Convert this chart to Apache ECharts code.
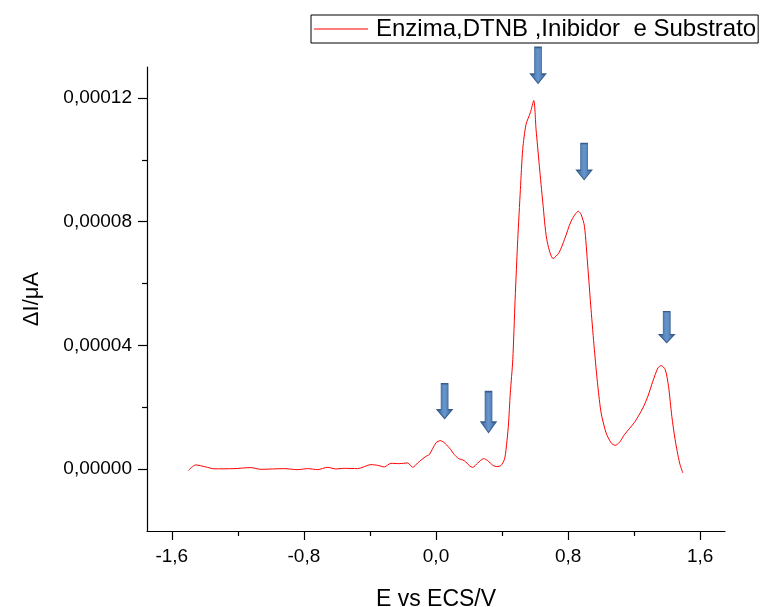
<!DOCTYPE html>
<html>
<head>
<meta charset="utf-8">
<script src="https://cdn.jsdelivr.net/npm/echarts@6/dist/echarts.min.js"></script>
<style>html,body{margin:0;padding:0;background:#fff;}#c{width:760px;height:607px;}</style>
</head>
<body>
<div id="c"></div>
<script>
// Potential (V vs ECS)
const potential = [-1.499,-1.455,-1.394,-1.344,-1.224,-1.121,-1.061,-0.921,-0.838,-0.778,-0.717,-0.656,-0.606,-0.556,-0.475,-0.394,-0.353,-0.313,-0.273,-0.222,-0.172,-0.141,-0.111,-0.061,-0.041,0.000,0.026,0.047,0.081,0.111,0.135,0.171,0.202,0.222,0.253,0.289,0.313,0.344,0.370,0.394,0.414,0.424,0.438,0.450,0.465,0.479,0.495,0.511,0.525,0.545,0.571,0.592,0.606,0.626,0.647,0.671,0.709,0.745,0.778,0.818,0.862,0.879,0.899,0.919,0.939,0.959,0.980,1.000,1.030,1.061,1.085,1.111,1.141,1.202,1.253,1.283,1.313,1.344,1.364,1.388,1.408,1.428,1.448,1.475,1.495];
// Delta current
const current = [-4e-7,1.36e-6,7.1e-7,1e-7,1.6e-7,4.9e-7,-6e-8,1.6e-7,-1.6e-7,1.6e-7,-1.6e-7,5.8e-7,6e-8,2.6e-7,1.6e-7,1.46e-6,1.23e-6,7.1e-7,1.88e-6,1.78e-6,2.0e-6,5.8e-7,2.0e-6,4.14e-6,4.69e-6,8.5e-6,9.22e-6,8.67e-6,6.86e-6,4.69e-6,3.49e-6,2.75e-6,1.13e-6,5.8e-7,2.0e-6,3.4e-6,2.75e-6,1.23e-6,8.1e-7,1.23e-6,3.07e-6,6.31e-6,1.384e-5,2.464e-5,3.541e-5,5.48e-5,7.421e-5,9.038e-5,1.0332e-4,1.114e-4,1.1518e-4,1.1916e-4,1.0978e-4,9.792e-5,8.608e-5,7.421e-5,6.807e-5,7.0e-5,7.421e-5,8.013e-5,8.336e-5,8.23e-5,7.85e-5,6.558e-5,5.158e-5,3.864e-5,2.678e-5,1.817e-5,1.171e-5,8.47e-6,7.7e-6,8.67e-6,1.116e-5,1.513e-5,1.979e-5,2.354e-5,2.839e-5,3.272e-5,3.347e-5,3.218e-5,2.678e-5,1.707e-5,9.54e-6,2.0e-6,-1.23e-6];
const xTicks = [-1.6,-0.8,0,0.8,1.6];
const xMinor = [-1.2,-0.4,0.4,1.2];
const yTicks = [0,0.00004,0.00008,0.00012];
const yMinor = [0.00002,0.00006,0.00010];
const seriesName = 'Enzima,DTNB ,Inibidor  e Substrato';
// arrow annotations (tip position in data coords)
const arrowX = [0.052,0.318,0.618,0.897,1.397];
const arrowY = [1.63e-5,1.18e-5,1.247e-4,9.36e-5,4.09e-5];

const FONT = 'Liberation Sans, Arial, sans-serif';
const arrowLen = [35,41,36,36,31];
const arrowPath = 'path://M4,0 L11,0 L11,26 L15,26 L7.5,35 L0,26 L4,26 Z';
const arrowFill = new echarts.graphic.LinearGradient(0,0,1,0,[
  {offset:0,color:'#3a679e'},{offset:0.5,color:'#6796cf'},{offset:1,color:'#3a679e'}]);

const chart = echarts.init(document.getElementById('c'), null, {renderer:'canvas'});
const fmt = v => Number(v).toFixed(5).replace('.', ',');
const xfmt = v => Number(v).toFixed(1).replace('.', ',');
const baseX = {type:'value', min:-1.75, max:1.75, splitLine:{show:false}};
const baseY = {type:'value', min:-0.00002, max:0.00013, splitLine:{show:false}};
chart.setOption({
  animation:false,
  backgroundColor:'#fff',
  textStyle:{fontFamily:FONT},
  grid:{left:147, right:35, top:67, bottom:76, containLabel:false, outerBoundsMode:'none'},
  legend:{
    left:311, top:15, padding:[2,2,2,3],
    borderColor:'#000', borderWidth:1,
    icon:'rect', itemWidth:54, itemHeight:1.2, itemGap:0,
    textStyle:{fontFamily:FONT, fontSize:24, color:'#000', padding:[0,0,0,3]},
    data:[{name:seriesName, itemStyle:{color:'#ff0000'}}]
  },
  xAxis:[
    Object.assign({}, baseX, {
      position:'bottom',
      name:'E vs ECS/V', nameLocation:'middle', nameGap:57,
      nameTextStyle:{fontFamily:FONT, fontSize:23, color:'#000'},
      axisLine:{onZero:false, lineStyle:{color:'#000', width:1.2}},
      axisTick:{show:true, inside:false, length:9, customValues:xTicks, lineStyle:{color:'#000', width:1.2}},
      axisLabel:{customValues:xTicks, formatter:xfmt, margin:16, fontFamily:FONT, fontSize:19, color:'#000'}
    }),
    Object.assign({}, baseX, {
      position:'bottom',
      axisLine:{show:false, onZero:false},
      axisTick:{show:true, length:5, customValues:xMinor, lineStyle:{color:'#000', width:1.2}},
      axisLabel:{show:false}
    })
  ],
  yAxis:[
    Object.assign({}, baseY, {
      position:'left',
      name:'\u0394I/\u03bcA', nameLocation:'middle', nameGap:104,
      nameTextStyle:{fontFamily:FONT, fontSize:22, color:'#000'},
      axisLine:{show:true, onZero:false, lineStyle:{color:'#000', width:1.2}},
      axisTick:{show:true, length:9, customValues:yTicks, lineStyle:{color:'#000', width:1.2}},
      axisLabel:{customValues:yTicks, formatter:fmt, margin:15, fontFamily:FONT, fontSize:19, color:'#000'}
    }),
    Object.assign({}, baseY, {
      position:'left',
      axisLine:{show:false, onZero:false},
      axisTick:{show:true, length:5, customValues:yMinor, lineStyle:{color:'#000', width:1.2}},
      axisLabel:{show:false}
    })
  ],
  series:[{
    name:seriesName, type:'line', xAxisIndex:0, yAxisIndex:0,
    data: potential.map((x,i)=>[x, current[i]]),
    showSymbol:false, smooth:0.25,
    lineStyle:{color:'#ff0000', width:1},
    itemStyle:{color:'#ff0000'},
    markPoint:{
      silent:true,
      symbol:arrowPath,
      label:{show:false},
      itemStyle:{color:arrowFill, borderColor:'#385d8a', borderWidth:1},
      data: arrowX.map((x,i)=>({coord:[x, arrowY[i]], symbolSize:[15, arrowLen[i]], symbolOffset:[0,'-50%']}))
    }
  }]
});
</script>
</body>
</html>
